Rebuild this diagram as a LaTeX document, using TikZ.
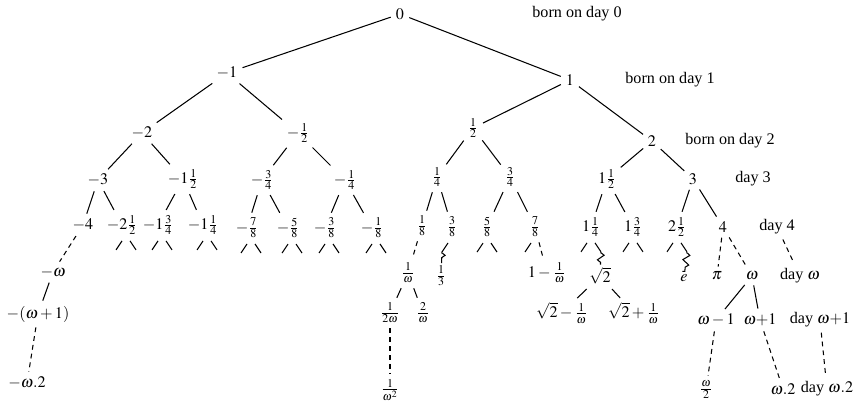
\documentclass[tikz,border=0pt]{standalone}
\usepackage{mathptmx}
\usepackage{fontspec}
\setmainfont{Liberation Serif}
\usetikzlibrary{decorations.pathmorphing}

% short stubs under a node (#1: x offset in pt)
\newcommand\lstub[2][0]{%
  \path ([xshift=#1pt]#2.south) ++(-4,3) coordinate (#2-a) ++(-6,9) coordinate (#2-l);
  \draw (#2-a) -- (#2-l);}
\newcommand\rstub[2][0]{%
  \path ([xshift=#1pt]#2.south) ++(4,3) coordinate (#2-b) ++(6,9) coordinate (#2-r);
  \draw (#2-b) -- (#2-r);}
\newcommand\stubs[2][0]{\lstub[#1]{#2}\rstub[#1]{#2}}

\begin{document}
\begin{tikzpicture}[x=0.62pt,y=-0.62pt,line width=0.65pt,
    every node/.style={inner sep=1.5pt},
    every edge/.style={draw,shorten >=1.5pt,shorten <=1.5pt},
    dsh/.style={dash pattern=on 3pt off 2.5pt},
    zz/.style={decorate,decoration={zigzag,segment length=6pt,amplitude=2pt,
        pre length=0.5pt,post length=0.5pt},shorten <=1pt,shorten >=1.5pt}
  ]
  \useasboundingbox (0,0) rectangle (854,404);
  % days 0 to 3
  \node (n0) at (400,14) {$0$};
  \node (nm1) at (227,73) {$-1$};
  \node (n1) at (570,80) {$1$};
  \node (nm2) at (142,133) {$-2$};
  \node (nmh) at (298,133) {$-\frac12$};
  \node (nh) at (473,128) {$\frac12$};
  \node (n2) at (652,141) {$2$};
  \node (nm3) at (98,180) {$-3$};
  \node (nm1h) at (183,179) {$-1\frac12$};
  \node (nm34) at (262,180) {$-\frac34$};
  \node (nm14) at (345,180) {$-\frac14$};
  \node (n14) at (437,177) {$\frac14$};
  \node (n34) at (510,177) {$\frac34$};
  \node (n1h) at (607,179) {$1\frac12$};
  \node (n3) at (693,179) {$3$};
  % day 4
  \node (nm4) at (83,225) {$-4$};
  \node (nm2h) at (122,225) {$-2\frac12$};
  \node (nm1t) at (158,225) {$-1\frac34$};
  \node (nm1q) at (203,225) {$-1\frac14$};
  \node (nm78) at (247,228) {$-\frac78$};
  \node (nm58) at (288,228) {$-\frac58$};
  \node (nm38) at (325,228) {$-\frac38$};
  \node (nm18) at (372,228) {$-\frac18$};
  \node (n18) at (422,226) {$\frac18$};
  \node (n38) at (452,227) {$\frac38$};
  \node (n58) at (487,227) {$\frac58$};
  \node (n78) at (535,227) {$\frac78$};
  \node (n1q) at (591,227) {$1\frac14$};
  \node (n1t) at (633,227) {$1\frac34$};
  \node (n2h) at (677,227) {$2\frac12$};
  \node (n4) at (723,227) {$4$};
  % day omega and later
  \node (nmw) at (53,272) {$-\omega$};
  \node (nw1) at (408,273) {$\frac1\omega$};
  \node (nthird) at (441,276) {$\frac13$};
  \node (n1mw) at (547,273) {$1-\frac1\omega$};
  \node (nsq) at (600,276) {$\sqrt2$};
  \node (ne) at (684,278) {$e$};
  \node (npi) at (717,276) {$\pi$};
  \node (nw) at (752,276) {$\omega$};
  \node (nmw1) at (38,314) {$-(\omega+1)$};
  \node (n2w) at (390,313) {$\frac1{2\omega}$};
  \node (nw2) at (423,313) {$\frac2\omega$};
  \node (nsqm) at (562,313) {$\sqrt2-\frac1\omega$};
  \node (nsqp) at (634,313) {$\sqrt2+\frac1\omega$};
  \node (nwm1) at (716,320) {$\omega-1$};
  \node (nwp1) at (760,320) {$\omega{+}1$};
  \node (nmw2) at (27,383) {$-\omega.2$};
  \node (nww) at (390,390) {$\frac1{\omega^2}$};
  \node (nwh) at (706,390) {$\frac\omega2$};
  \node (nwt) at (783,389) {$\omega.2$};
  % day labels
  \node (d0) at (577,14) {born on day 0};
  \node (d1) at (670,80) {born on day 1};
  \node (d2) at (730,141) {born on day 2};
  \node (d3) at (753,179) {day 3};
  \node (d4) at (777,227) {day 4};
  \node (dw) at (800,276) {day $\omega$};
  \node (dwp1) at (820,320) {day $\omega{+}1$};
  \node (dwt) at (827,389) {day $\omega.2$};

  \path
    (n0) edge (nm1) edge (n1)
    (nm1) edge (nm2) edge (nmh)
    (n1) edge (nh) edge (n2)
    (nm2) edge (nm3) edge (nm1h)
    (nmh) edge (nm34) edge (nm14)
    (nh) edge (n14) edge (n34)
    (n2) edge (n1h) edge (n3)
    (nm3) edge (nm4) edge (nm2h)
    (nm1h) edge (nm1t) edge (nm1q)
    (nm34) edge (nm78) edge (nm58)
    (nm14) edge (nm38) edge (nm18)
    (n14) edge (n18) edge (n38)
    (n34) edge (n58) edge (n78)
    (n1h) edge (n1q) edge (n1t)
    (n3) edge (n2h) edge (n4)
    (nmw) edge (nmw1)
    (nw1) edge (n2w) edge (nw2)
    (nsq) edge (nsqm) edge (nsqp)
    (nw) edge (nwm1) edge (nwp1)
  ;
  \path[dsh]
    (nm4) edge (nmw)
    (nmw1) edge (nmw2)
    (n18) edge (nw1)
    (n2w) edge (nww)
    (n78) edge (n1mw)
    (n4) edge (npi) edge (nw)
    (nwm1) edge (nwh)
    (nwp1) edge (nwt)
    (d4) edge (dw)
    (dwp1) edge (dwt)
  ;
  \foreach \n in {nm2h,nm1t,nm1q,nm78,nm58,nm38,nm18} {\stubs[2.5]{\n}}
  \foreach \n in {n58,n1t} {\stubs{\n}}
  \foreach \n in {n78,n1q,n2h} {\lstub{\n}}
  \rstub{n1q}
  \rstub{n2h}
  \lstub{n38}
  \path
    (n38-l) edge[zz] (nthird)
    (n1q-r) edge[zz] (nsq)
    (n2h-r) edge[zz] (ne)
  ;
\end{tikzpicture}
\end{document}
